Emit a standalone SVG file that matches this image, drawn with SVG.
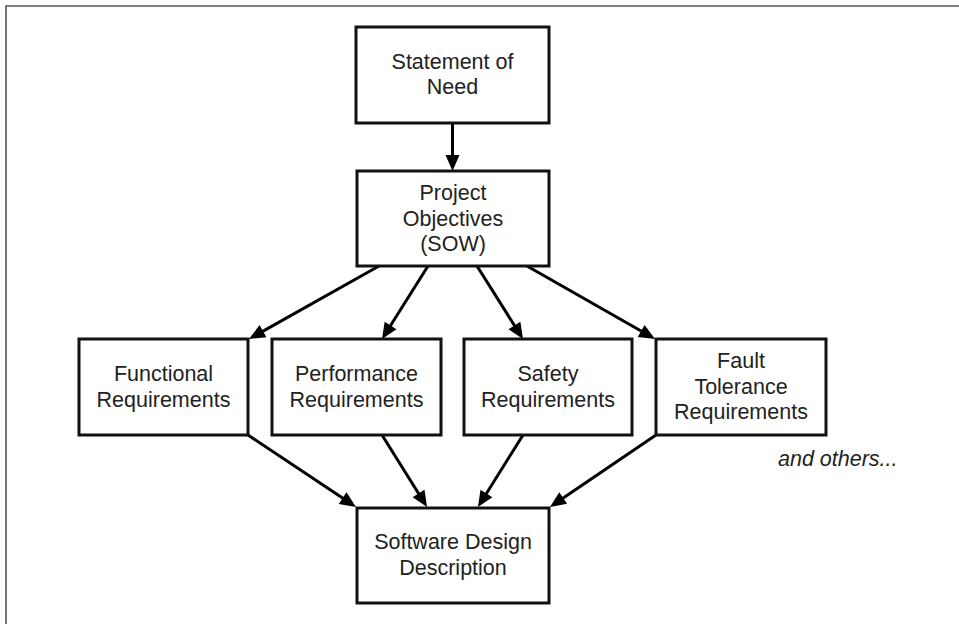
<svg xmlns="http://www.w3.org/2000/svg" width="959" height="624" viewBox="0 0 959 624">
<style>
.box{fill:#fff;stroke:#111;stroke-width:3}
.t{font-family:"Liberation Sans",Arial,sans-serif;font-size:21.5px;fill:#222;text-anchor:middle}
.c{stroke:#000;stroke-width:3;fill:none;marker-end:url(#ah)}
</style>
<defs>
<marker id="ah" markerUnits="userSpaceOnUse" markerWidth="17" markerHeight="15" refX="8" refY="7" orient="auto" viewBox="0 0 17 15" overflow="visible">
<path d="M0,0 L16,7 L0,14 z" fill="#000"/>
</marker>
</defs>
<rect x="0" y="0" width="959" height="624" fill="#fff"/>
<path d="M6,630 V6 H965" fill="none" stroke="#555" stroke-width="1.6"/>
<g id="connectors">
<line class="c" x1="452.5" y1="123" x2="452.5" y2="163"/>
<line class="c" x1="379" y1="266" x2="256" y2="335.1"/>
<line class="c" x1="428" y1="266" x2="386.3" y2="332.2"/>
<line class="c" x1="477" y1="266" x2="518.7" y2="332.2"/>
<line class="c" x1="527" y1="266" x2="648.1" y2="335"/>
<line class="c" x1="248" y1="435" x2="349.3" y2="502.6"/>
<line class="c" x1="382" y1="435" x2="422.8" y2="500.2"/>
<line class="c" x1="523" y1="435" x2="482.2" y2="500.2"/>
<line class="c" x1="656" y1="435" x2="556.6" y2="502.5"/>
</g>
<g id="statement">
<rect class="box" x="356" y="27" width="193" height="96"/>
<text class="t" x="452.5" y="69">Statement of</text>
<text class="t" x="452.5" y="93.5">Need</text>
</g>
<g id="objectives">
<rect class="box" x="357" y="171" width="192" height="95"/>
<text class="t" x="453" y="200">Project</text>
<text class="t" x="453" y="225.5">Objectives</text>
<text class="t" x="453" y="251">(SOW)</text>
</g>
<g id="functional">
<rect class="box" x="79" y="339" width="169" height="96"/>
<text class="t" x="163.5" y="381">Functional</text>
<text class="t" x="163.5" y="407">Requirements</text>
</g>
<g id="performance">
<rect class="box" x="272" y="339" width="169" height="96"/>
<text class="t" x="356.5" y="381">Performance</text>
<text class="t" x="356.5" y="407">Requirements</text>
</g>
<g id="safety">
<rect class="box" x="464" y="339" width="168" height="96"/>
<text class="t" x="548" y="381">Safety</text>
<text class="t" x="548" y="407">Requirements</text>
</g>
<g id="fault">
<rect class="box" x="656" y="339" width="170" height="96"/>
<text class="t" x="741" y="368">Fault</text>
<text class="t" x="741" y="393.5">Tolerance</text>
<text class="t" x="741" y="419">Requirements</text>
</g>
<g id="sdd">
<rect class="box" x="357" y="508" width="192" height="95"/>
<text class="t" x="453" y="549">Software Design</text>
<text class="t" x="453" y="575">Description</text>
</g>
<text x="778" y="466" style="font-family:'Liberation Sans',Arial,sans-serif;font-size:21.5px;font-style:italic;fill:#222">and others...</text>
</svg>
